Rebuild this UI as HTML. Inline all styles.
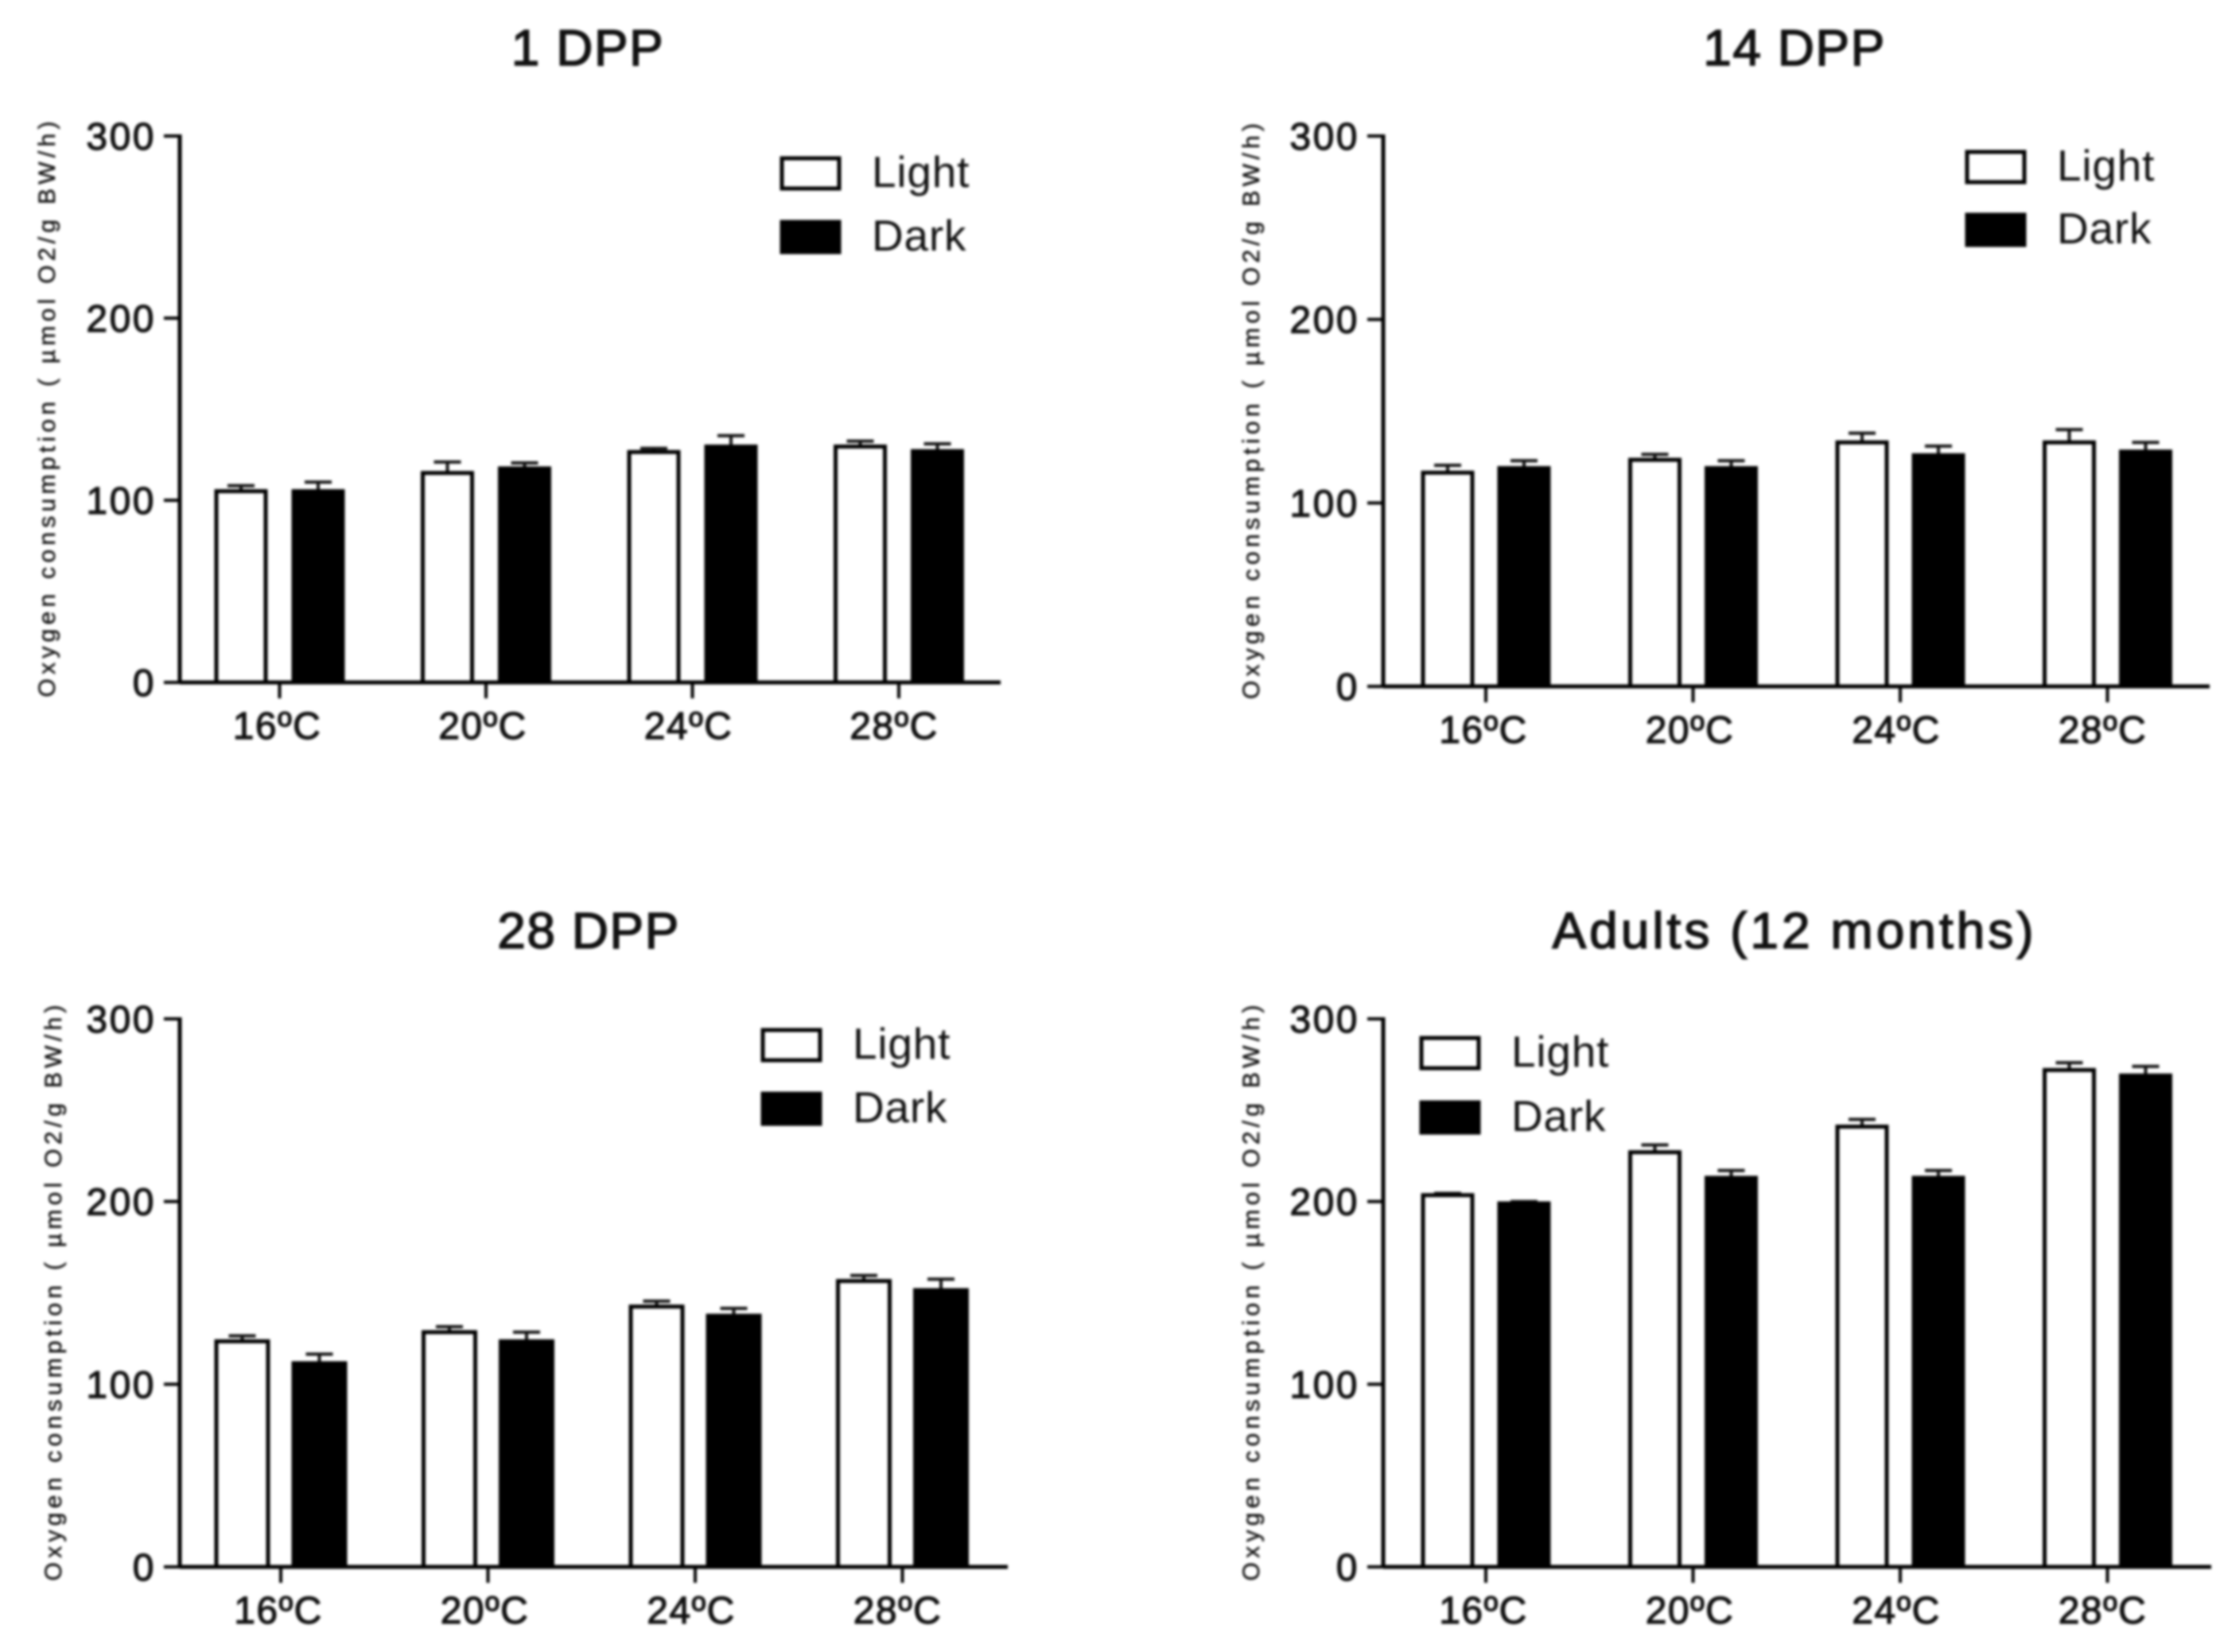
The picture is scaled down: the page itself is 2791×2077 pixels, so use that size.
<!DOCTYPE html>
<html lang="en">
<head>
<meta charset="utf-8">
<title>Oxygen consumption by temperature</title>
<style>
html,body{margin:0;padding:0;background:#fff;}
svg{display:block;filter:blur(1.5px);}
text{font-family:"Liberation Sans",Arial,sans-serif;fill:#111;}
</style>
</head>
<body>
<svg id="chart" xmlns="http://www.w3.org/2000/svg" width="2791" height="2077" viewBox="0 0 2791 2077"></svg>
<script>
const categories = ['16ºC', '20ºC', '24ºC', '28ºC'];
const seriesNames = ['Light', 'Dark'];
const yTicks = [0, 100, 200, 300];
const yAxisTitle = 'Oxygen consumption ( µmol O2/g BW/h)';

const dpp1Light = [105, 115, 126.5, 129.5];
const dpp1LightErr = [3, 6, 2, 3];
const dpp1Dark = [105, 117.5, 129.5, 127];
const dpp1DarkErr = [5, 3, 6, 4];

const dpp14Light = [116.5, 123.5, 133, 133];
const dpp14LightErr = [4, 3, 5, 7];
const dpp14Dark = [119, 119, 126, 128];
const dpp14DarkErr = [4, 4, 5, 5];

const dpp28Light = [123.5, 128.5, 142.5, 156.5];
const dpp28LightErr = [3, 3, 3, 3];
const dpp28Dark = [111.5, 123.5, 137.5, 151.5];
const dpp28DarkErr = [5, 5, 4, 6];

const adultLight = [203.5, 227, 241, 272];
const adultLightErr = [1, 4, 4, 4];
const adultDark = [199, 213, 213, 269];
const adultDarkErr = [1, 4, 4, 5];

const panels = [
  {key: '1-dpp', title: '1 DPP', cx: 739, ty: 82, titleGap: 1.5, left: 226, right: 1258, y0: 858, y300: 171, start: 272, w: 62, dark: 369, step: 259.5, titleX: 58, legX: 983, legY: 199, legGap: 80, light: dpp1Light, lightErr: dpp1LightErr, darkV: dpp1Dark, darkErr: dpp1DarkErr},
  {key: '14-dpp', title: '14 DPP', cx: 2256, ty: 82, titleGap: 1.5, left: 1739, right: 2778, y0: 863, y300: 171, start: 1789, w: 62, dark: 1885, step: 260.5, titleX: 1572, legX: 2473, legY: 191, legGap: 79, light: dpp14Light, lightErr: dpp14LightErr, darkV: dpp14Dark, darkErr: dpp14DarkErr},
  {key: '28-dpp', title: '28 DPP', cx: 740, ty: 1192, titleGap: 1.5, left: 226, right: 1267, y0: 1970, y300: 1281, start: 272, w: 65, dark: 369, step: 260.5, titleX: 66, legX: 959, legY: 1295, legGap: 80, light: dpp28Light, lightErr: dpp28LightErr, darkV: dpp28Dark, darkErr: dpp28DarkErr},
  {key: 'adults', title: 'Adults (12 months)', cx: 2256, ty: 1192, titleGap: 4, left: 1739, right: 2780, y0: 1970, y300: 1281, start: 1789, w: 62, dark: 1885, step: 260.5, titleX: 1572, legX: 1787, legY: 1305, legGap: 81, light: adultLight, lightErr: adultLightErr, darkV: adultDark, darkErr: adultDarkErr}
];

const svg = document.getElementById('chart');
const NS = 'http://www.w3.org/2000/svg';

function make(parent, tag, attrs, txt) {
  const el = document.createElementNS(NS, tag);
  for (const k in attrs) el.setAttribute(k, attrs[k]);
  if (txt !== undefined) el.textContent = txt;
  parent.appendChild(el);
  return el;
}

panels.forEach(function (p) {
  const yScale = function (v) { return p.y0 + (p.y300 - p.y0) * v / 300; };
  const lightX = function (i) { return p.start + i * p.step; };
  const darkX = function (i) { return p.dark + i * p.step; };
  const groupCenter = function (i) { return (lightX(i) + darkX(i) + p.w) / 2; };

  const g = make(svg, 'g', {});
  
  

  const title = make(g, 'text', {x: p.cx, y: p.ty, 'text-anchor': 'middle', 'font-size': 64, 'letter-spacing': p.titleGap, stroke: '#111', 'stroke-width': 1.6}, p.title);
  
  

  const yTitle = make(g, 'text', {
    x: 0, y: 0, 'text-anchor': 'middle', 'font-size': 30,
    textLength: 724, lengthAdjust: 'spacing', stroke: '#111', 'stroke-width': 0.5,
    transform: 'translate(' + (p.titleX + 11) + ' ' + ((p.y0 + p.y300) / 2) + ') rotate(-90)'
  }, yAxisTitle);
  
  

  // bars and error bars
  categories.forEach(function (c, i) {
    const pairs = [
      {v: p.light[i], e: p.lightErr[i], x: lightX(i), fill: '#fff', n: 'light'},
      {v: p.darkV[i], e: p.darkErr[i], x: darkX(i), fill: '#000', n: 'dark'}
    ];
    pairs.forEach(function (b) {
      const mid = b.x + p.w / 2;
      const top = yScale(b.v);
      const errTop = yScale(b.v + b.e);

      const stem = make(g, 'line', {x1: mid, x2: mid, y1: top, y2: errTop, stroke: '#111', 'stroke-width': 4});
      
      

      const cap = make(g, 'line', {x1: mid - 17, x2: mid + 17, y1: errTop, y2: errTop, stroke: '#111', 'stroke-width': 4});
      
      

      const bar = make(g, 'rect', {x: b.x, y: top, width: p.w, height: p.y0 - top, fill: b.fill, stroke: '#000', 'stroke-width': 5});
      
      
    });
  });

  // axes
  const yAxis = make(g, 'line', {x1: p.left, x2: p.left, y1: p.y300 - 2, y2: p.y0 + 2, stroke: '#000', 'stroke-width': 5});
  
  

  const xAxis = make(g, 'line', {x1: p.left, x2: p.right, y1: p.y0, y2: p.y0, stroke: '#000', 'stroke-width': 5});
  
  

  yTicks.forEach(function (t) {
    const tick = make(g, 'line', {x1: p.left - 20, x2: p.left, y1: yScale(t), y2: yScale(t), stroke: '#000', 'stroke-width': 4});
    
    

    const label = make(g, 'text', {x: p.left - 30, y: yScale(t) + 17, 'text-anchor': 'end', 'font-size': 48, 'letter-spacing': 2.5, stroke: '#111', 'stroke-width': 1.2}, String(t));
    
    
  });

  categories.forEach(function (c, i) {
    const tick = make(g, 'line', {x1: groupCenter(i), x2: groupCenter(i), y1: p.y0, y2: p.y0 + 20, stroke: '#000', 'stroke-width': 4});
    
    

    const label = make(g, 'text', {x: groupCenter(i) - 3 - i, y: p.y0 + 71, 'text-anchor': 'middle', 'font-size': 48, 'letter-spacing': 1.5, stroke: '#111', 'stroke-width': 1.2}, c);
    
    
  });

  // legend
  seriesNames.forEach(function (s, i) {
    const swatch = make(g, 'rect', {x: p.legX, y: p.legY + i * p.legGap, width: 72, height: 38, fill: i === 0 ? '#fff' : '#000', stroke: '#000', 'stroke-width': 5});
    
    

    const label = make(g, 'text', {x: p.legX + 113, y: p.legY + i * p.legGap + 36, 'font-size': 55, 'letter-spacing': 0.8, fill: '#222'}, s);
    
    
  });
});
</script>
</body>
</html>
